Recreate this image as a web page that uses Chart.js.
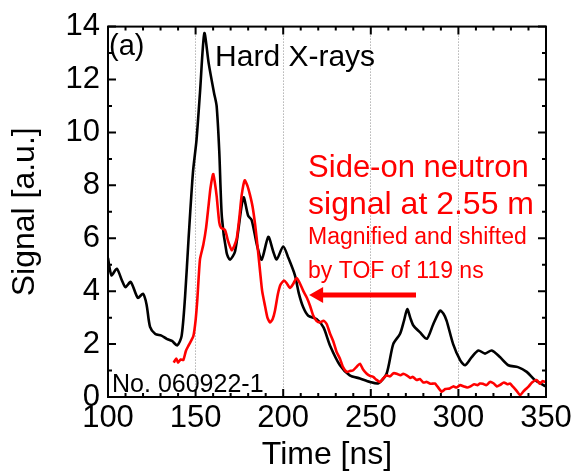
<!DOCTYPE html>
<html>
<head>
<meta charset="utf-8">
<script src="https://cdn.jsdelivr.net/npm/chart.js@4"></script>
<style>
  html, body { margin: 0; padding: 0; background: #fff; }
  canvas { display: block; }
</style>
</head>
<body>
<canvas id="signalChart" width="575" height="474"></canvas>
<script>
// hard X-ray signal (black)
const xrayTime = [100, 102, 105, 108, 110, 113, 117, 120, 122, 124, 127, 130.5, 133.5, 136.5, 139.5, 142, 144, 146, 148.5, 150.5, 152.5, 155, 157.5, 160.5, 162, 163.5, 165, 167.7, 169.6, 172.5, 176.3, 177.5, 180, 182, 185, 187.7, 191.5, 194.3, 196.3, 200, 203, 206.7, 209, 211.5, 214.3, 219, 223, 226.7, 232.4, 238, 243.8, 249.5, 254.3, 259, 262.8, 266.7, 269, 270.8, 272.5, 274.3, 278, 282, 285.7, 289.5, 291.5, 293.3, 297, 301, 303.8, 307.6, 311.4, 315.2, 319, 323.7, 328.5, 334, 339, 343.7, 348.5, 350];
const xraySignal = [5.25, 4.6, 4.85, 4.4, 4.15, 4.35, 3.75, 3.9, 3.5, 2.65, 2.38, 2.32, 2.2, 2.12, 1.95, 2.3, 3.8, 6.0, 8.5, 9.7, 11.5, 13.75, 12.6, 11.5, 11.0, 9.3, 6.8, 5.45, 5.19, 5.5, 7.25, 7.55, 6.85, 6.69, 5.75, 5.19, 6.05, 5.5, 5.2, 5.69, 5.25, 4.6, 3.9, 3.38, 3.07, 2.95, 2.63, 1.95, 1.2, 0.82, 0.7, 0.57, 0.52, 0.88, 2.0, 2.39, 2.9, 3.32, 3.0, 2.7, 2.45, 2.2, 2.76, 3.26, 3.15, 2.88, 2.0, 1.39, 1.2, 1.51, 1.76, 1.64, 1.76, 1.51, 1.2, 1.13, 0.95, 0.64, 0.45, 0.4];

// side-on neutron signal, shifted by TOF (red)
const neutronTime = [137.5, 139, 140, 141.5, 143, 144.5, 146, 148.7, 150, 151, 152.5, 154.4, 156, 157.5, 158.5, 160, 161, 162, 163.5, 164.5, 166.8, 168.5, 170.6, 172, 173.5, 175, 176.3, 178, 179.5, 181, 182.5, 184, 185.5, 186.8, 188, 189.6, 191, 192.5, 194, 195.3, 197, 198.5, 200.5, 202, 203.9, 205.5, 207.7, 209.5, 211.5, 213.5, 215.3, 217, 219, 221, 223, 224.8, 226.7, 228.6, 230.5, 232.4, 234, 236.2, 238, 240, 242, 243.8, 245.5, 247.7, 249.5, 251.4, 253, 255.3, 257, 259, 261, 263, 264.8, 267, 268.5, 270.5, 272.5, 274, 276.2, 278, 280, 282, 284, 286.6, 288, 290.5, 292.5, 295, 297, 299, 301, 303, 305, 306.6, 309, 311, 312.3, 314, 316, 318, 320, 322, 323.7, 326, 328, 329.4, 331, 333, 335.2, 337, 338.5, 340, 342, 344.7, 346.5, 348, 349.4, 350];
const neutronSignal = [1.3, 1.45, 1.3, 1.42, 1.4, 1.75, 1.95, 2.3, 2.9, 3.7, 5.2, 5.75, 6.4, 7.3, 7.9, 8.43, 8.1, 7.6, 6.6, 6.4, 6.31, 5.9, 5.55, 5.7, 6.0, 6.8, 7.63, 8.19, 8.0, 7.65, 7.2, 6.5, 5.6, 4.75, 4.0, 3.45, 3.0, 2.82, 2.95, 3.26, 3.9, 4.25, 4.4, 4.3, 4.12, 4.25, 4.5, 4.3, 4.0, 3.75, 3.45, 3.1, 2.88, 2.82, 2.88, 2.76, 2.4, 2.1, 1.7, 1.45, 1.15, 0.95, 0.98, 1.01, 1.15, 1.26, 1.05, 0.88, 0.8, 0.76, 0.66, 0.57, 0.7, 0.82, 0.78, 0.9, 0.88, 0.82, 0.88, 0.82, 0.72, 0.76, 0.64, 0.68, 0.55, 0.57, 0.5, 0.51, 0.4, 0.2, 0.3, 0.32, 0.4, 0.36, 0.45, 0.4, 0.36, 0.39, 0.48, 0.45, 0.51, 0.5, 0.45, 0.57, 0.52, 0.4, 0.45, 0.55, 0.48, 0.51, 0.4, 0.25, 0.07, 0.2, 0.3, 0.39, 0.55, 0.64, 0.5, 0.6, 0.57, 0.6];

const xTicks = [100, 150, 200, 250, 300, 350];
const yTicks = [0, 2, 4, 6, 8, 10, 12, 14];

const FONT = 'Liberation Sans, Arial, sans-serif';

function toPoints(xs, ys) {
    return xs.map((x, i) => ({ x: x, y: ys[i] }));
}

// frame, inward ticks (major + minor) on all four sides, and the annotations
const framePlugin = {
    id: 'frame',
    afterDatasetsDraw(chart) {
        const ctx = chart.ctx;
        const area = chart.chartArea;
        const xs = chart.scales.x;
        const ys = chart.scales.y;
        ctx.save();
        ctx.strokeStyle = '#000';
        ctx.lineWidth = 2;
        ctx.strokeRect(area.left, area.top, area.right - area.left, area.bottom - area.top);

        ctx.beginPath();
        for (let v = xs.min; v <= xs.max; v += 10) {
            const px = xs.getPixelForValue(v);
            const len = v % 50 === 0 ? 8 : 4;
            ctx.moveTo(px, area.bottom); ctx.lineTo(px, area.bottom - len);
            ctx.moveTo(px, area.top); ctx.lineTo(px, area.top + len);
        }
        for (let v = ys.min; v <= ys.max; v += 1) {
            const py = ys.getPixelForValue(v);
            const len = v % 2 === 0 ? 8 : 4;
            ctx.moveTo(area.left, py); ctx.lineTo(area.left + len, py);
            ctx.moveTo(area.right, py); ctx.lineTo(area.right - len, py);
        }
        ctx.stroke();

        const at = (t, s) => [xs.getPixelForValue(t), ys.getPixelForValue(s)];
        ctx.textBaseline = 'alphabetic';
        ctx.textAlign = 'left';

        ctx.fillStyle = '#000';
        ctx.font = '29px ' + FONT;
        ctx.fillText('(a)', ...at(100.6, 12.92));
        ctx.font = '30px ' + FONT;
        ctx.fillText('Hard X-rays', ...at(161.1, 12.5));
        ctx.font = '25px ' + FONT;
        ctx.fillText('No. 060922-1', ...at(102.3, 0.2));

        ctx.fillStyle = '#ff0000';
        ctx.font = '31px ' + FONT;
        ctx.fillText('Side-on neutron', ...at(214.2, 8.31));
        ctx.font = '32px ' + FONT;
        ctx.fillText('signal at 2.55 m', ...at(214.2, 6.93));
        ctx.font = '23px ' + FONT;
        ctx.fillText('Magnified and shifted', ...at(214.2, 5.77));
        ctx.fillText('by TOF of 119 ns', ...at(214.2, 4.49));

        // arrow pointing at the neutron curve
        const [ax1, ay] = at(275.8, 3.86);
        const [ax2] = at(214.8, 3.86);
        ctx.strokeStyle = '#ff0000';
        ctx.lineWidth = 5;
        ctx.beginPath();
        ctx.moveTo(ax1, ay);
        ctx.lineTo(ax2 + 10, ay);
        ctx.stroke();
        ctx.fillStyle = '#ff0000';
        ctx.beginPath();
        ctx.moveTo(ax2, ay);
        ctx.lineTo(ax2 + 14, ay - 8);
        ctx.lineTo(ax2 + 14, ay + 8);
        ctx.closePath();
        ctx.fill();
        ctx.restore();
    }
};

const bgPlugin = {
    id: 'bg',
    beforeDraw(chart) {
        const ctx = chart.ctx;
        ctx.save();
        ctx.fillStyle = '#fff';
        ctx.fillRect(0, 0, chart.width, chart.height);
        ctx.restore();
    }
};

const ctx = document.getElementById('signalChart').getContext('2d');
const signalChart = new Chart(ctx, {
    type: 'line',
    data: {
        datasets: [{
            label: 'Hard X-rays',
            data: toPoints(xrayTime, xraySignal),
            borderColor: '#000',
            borderWidth: 2.6,
            pointRadius: 0,
            tension: 0.25,
            order: 1
        }, {
            label: 'Side-on neutron signal',
            data: toPoints(neutronTime, neutronSignal),
            borderColor: '#ff0000',
            borderWidth: 2.6,
            pointRadius: 0,
            tension: 0.2,
            order: 0
        }]
    },
    options: {
        responsive: false,
        animation: false,
        layout: { padding: { top: 23, right: 29, left: 0, bottom: 0 } },
        scales: {
            x: {
                type: 'linear',
                min: 100,
                max: 350,
                afterBuildTicks: (scale) => { scale.ticks = xTicks.map(v => ({ value: v })); },
                afterFit: (scale) => { scale.height = 77; },
                ticks: {
                    color: '#000',
                    font: { family: FONT, size: 31 },
                    padding: 3,
                    maxRotation: 0,
                    autoSkip: false
                },
                grid: {
                    drawTicks: false,
                    lineWidth: 1,
                    color: (c) => (c.tick && c.tick.value > 100 && c.tick.value < 350) ? 'rgba(0,0,0,0.45)' : 'rgba(0,0,0,0)'
                },
                border: { display: false, dash: [1, 2] },
                title: {
                    display: true,
                    text: 'Time [ns]',
                    color: '#000',
                    font: { family: FONT, size: 32 },
                    padding: { top: 0, bottom: 0 }
                }
            },
            y: {
                min: 0,
                max: 14,
                afterBuildTicks: (scale) => { scale.ticks = yTicks.map(v => ({ value: v })); },
                afterFit: (scale) => { scale.width = 108; },
                ticks: {
                    color: '#000',
                    font: { family: FONT, size: 31 },
                    padding: 8
                },
                grid: { display: false, drawTicks: false },
                border: { display: false },
                title: {
                    display: true,
                    text: 'Signal [a.u.]',
                    color: '#000',
                    font: { family: FONT, size: 32 },
                    padding: { top: 6, bottom: 0 }
                }
            }
        },
        plugins: {
            legend: { display: false },
            tooltip: { enabled: false }
        }
    },
    plugins: [bgPlugin, framePlugin]
});
</script>
</body>
</html>
